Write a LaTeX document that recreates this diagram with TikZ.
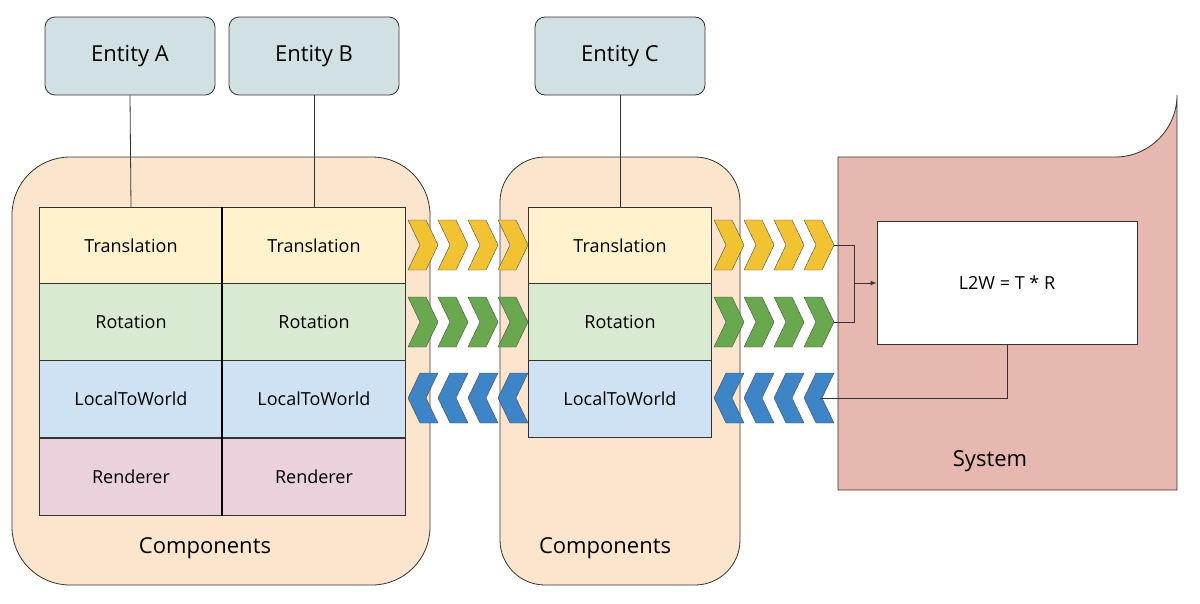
\documentclass[tikz,border=0pt]{standalone}
\usepackage{fontspec}
\setmainfont{Open Sans}
\usetikzlibrary{arrows.meta}
\definecolor{ent}{HTML}{D0E0E3}
\definecolor{cont}{HTML}{FCE5CD}
\definecolor{sys}{HTML}{E6B8AF}
\definecolor{ctr}{HTML}{FFF2CC}
\definecolor{crot}{HTML}{D9EAD3}
\definecolor{cl2w}{HTML}{CFE2F3}
\definecolor{cren}{HTML}{EAD1DC}
\definecolor{chy}{HTML}{F1C232}
\definecolor{chg}{HTML}{6AA84F}
\definecolor{chb}{HTML}{3D85C6}
\newcommand{\chevR}[3]{\fill[#3,draw=black!70,line width=0.4pt] (#1,#2-25)--(#1+18,#2-25)--(#1+30,#2)--(#1+18,#2+25)--(#1,#2+25)--(#1+12,#2)--cycle;}
\newcommand{\chevL}[3]{\fill[#3,draw=black!70,line width=0.4pt] (#1+30,#2-25)--(#1+12,#2-25)--(#1,#2)--(#1+12,#2+25)--(#1+30,#2+25)--(#1+18,#2)--cycle;}
\begin{document}
\begin{tikzpicture}[x=1pt,y=-1pt,
  ent/.style={draw=black!80,fill=ent,rounded corners=10pt,minimum width=170pt,minimum height=78pt,font=\fontsize{22}{26}\selectfont,line width=0.8pt},
  cell/.style={draw=black!80,minimum width=183pt,minimum height=77pt,font=\fontsize{18}{22}\selectfont,inner sep=0pt,line width=0.8pt},
  lbl/.style={font=\fontsize{22}{26}\selectfont},
  ln/.style={draw=black!80,line width=0.8pt}]
\useasboundingbox (0,0) rectangle (1200,603);
% containers
\draw[ln,fill=cont,rounded corners=58pt] (12,157) rectangle (430,585);
\draw[ln,fill=cont,rounded corners=45pt] (500,157) rectangle (740,585);
\draw[ln,fill=sys] (838,490) -- (838,157) -- (1115,157) arc[start angle=90,end angle=0,radius=62] -- (1177,490) -- cycle;
% entities
\node[ent] (ea) at (130,56) {Entity A};
\node[ent] (eb) at (314,56) {Entity B};
\node[ent] (ec) at (620,56) {Entity C};
% cells
\node[cell,fill=ctr] (ta) at (131,246) {Translation};
\node[cell,fill=crot] (ra) at (131,322) {Rotation};
\node[cell,fill=cl2w] (la) at (131,399) {LocalToWorld};
\node[cell,fill=cren] (na) at (131,477) {Renderer};
\node[cell,fill=ctr] (tb) at (314,246) {Translation};
\node[cell,fill=crot] (rb) at (314,322) {Rotation};
\node[cell,fill=cl2w] (lb) at (314,399) {LocalToWorld};
\node[cell,fill=cren] (nb) at (314,477) {Renderer};
\node[cell,fill=ctr] (tc) at (620,246) {Translation};
\node[cell,fill=crot] (rc) at (620,322) {Rotation};
\node[cell,fill=cl2w] (lc) at (620,399) {LocalToWorld};
\draw[line width=1.6pt] (222,207) -- (222,516);
\node[lbl] (c1) at (205,548) {Components};
\node[lbl] (c2) at (605,548) {Components};
\node[lbl] (sl) at (990,461) {System};
\node[draw=black!80,fill=white,minimum width=260pt,minimum height=123pt,line width=0.8pt,font=\fontsize{18}{22}\selectfont] (l2w) at (1007,283) {L2W = T * R};
% entity links
\draw[ln] (ea.south) -- (ta.north);
\draw[ln] (eb.south) -- (tb.north);
\draw[ln] (ec.south) -- (tc.north);
% chevrons
\foreach \i in {0,1,2,3}{
 \chevR{408+30*\i}{245}{chy}
 \chevR{408+30*\i}{322}{chg}
 \chevL{408+30*\i}{398}{chb}
 \chevR{714+30*\i}{245}{chy}
 \chevR{714+30*\i}{322}{chg}
 \chevL{714+30*\i}{398}{chb}
}
\coordinate (y1) at (834,245);
\coordinate (g1) at (834,322);
\coordinate (b1) at (820,398);
\draw[ln] (y1) -- (854,245) -- (854,322) -- (g1);
\draw[ln,-{Latex[length=6pt]}] (854,283) -- (l2w.west);
\draw[ln] (l2w.south) -- (1007,398) -- (b1);
\end{tikzpicture}
\end{document}
